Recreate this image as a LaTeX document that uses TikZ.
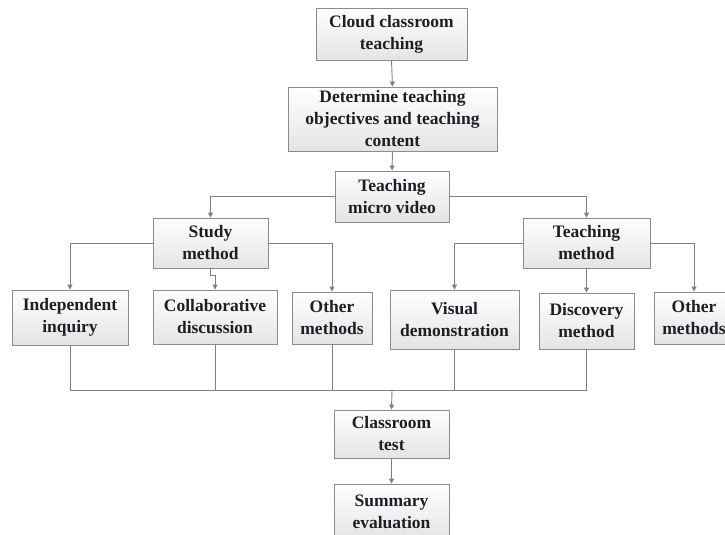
\documentclass[tikz,border=0pt]{standalone}
\usepackage{fontspec}
\setmainfont{Liberation Serif}
\usetikzlibrary{arrows.meta,shadows}
\definecolor{linegray}{RGB}{128,128,128}
\definecolor{boxborder}{RGB}{140,140,140}
\definecolor{boxbottom}{RGB}{228,228,228}
\definecolor{txt}{RGB}{30,30,38}
\tikzset{
  box/.style={draw=boxborder, line width=0.9pt, top color=white, bottom color=boxbottom,
    drop shadow={shadow xshift=1.2pt, shadow yshift=-1.2pt, fill=gray, opacity=0.3},
    align=center, inner sep=2pt, text=txt,
    font=\fontsize{17.5}{22}\selectfont\bfseries},
  link/.style={draw=linegray, line width=0.9pt},
  arr/.style={link, -{Triangle[length=5pt,width=5pt]}},
}
\begin{document}
\begin{tikzpicture}[x=1pt,y=-1pt]
  \useasboundingbox (0,0) rectangle (725,535);
  \clip (0,0) rectangle (725,535);

  % main chain
  \node[box, minimum width=151pt, minimum height=52pt] (cloud) at (391.5,34) {Cloud classroom\\teaching};
  \node[box, minimum width=209pt, minimum height=64pt] (goal) at (392.5,119) {Determine teaching\\objectives and teaching\\content};
  \node[box, minimum width=114pt, minimum height=51pt] (video) at (392,196.5) {Teaching\\micro video};

  % second level
  \node[box, minimum width=115pt, minimum height=50pt] (study) at (210.5,243) {Study\\method};
  \node[box, minimum width=127pt, minimum height=50pt] (tmethod) at (586.5,243) {Teaching\\method};

  % study methods
  \node[box, minimum width=116pt, minimum height=55pt] (indep) at (70,317.5) {Independent\\inquiry};
  \node[box, minimum width=124pt, minimum height=54pt] (collab) at (215,317) {Collaborative\\discussion};
  \node[box, minimum width=80pt, minimum height=52pt] (otherA) at (332,318) {Other\\methods};

  % teaching methods
  \node[box, minimum width=129pt, minimum height=59pt] (visual) at (454.5,319.5) {Visual\\demonstration};
  \node[box, minimum width=95pt, minimum height=56pt] (discovery) at (586.5,321) {Discovery\\method};
  \node[box, minimum width=80pt, minimum height=52pt] (otherB) at (694,318) {Other\\methods};

  % evaluation
  \node[box, minimum width=115pt, minimum height=48pt] (test) at (391.5,434) {Classroom\\test};
  \node[box, minimum width=115pt, minimum height=56pt] (summary) at (391.5,512) {Summary\\evaluation};

  \coordinate (merge) at (392,390);

  % connectors
  \draw[arr] (cloud.south) -- (goal.north);
  \draw[arr] (goal.south) -- (video.north);
  \draw[arr] (video.west) -| (study.north);
  \draw[arr] (video.east) -| (tmethod.north);

  \draw[arr] (study.west) -| (indep.north);
  \draw[arr] (study.east) -| (otherA.north);
  \draw[arr] (study.south) -- ++(0,7) -| (collab.north);

  \draw[arr] (tmethod.west) -| (visual.north);
  \draw[arr] (tmethod.east) -| (otherB.north);
  \draw[arr] (tmethod.south) -- (discovery.north);

  \draw[link] (indep.south) |- (merge);
  \draw[link] (discovery.south) |- (merge);
  \draw[link] (collab.south) -- (collab.south |- merge);
  \draw[link] (otherA.south) -- (otherA.south |- merge);
  \draw[link] (visual.south) -- (visual.south |- merge);
  \draw[arr] (merge) -- (test.north);
  \draw[arr] (test.south) -- (summary.north);
\end{tikzpicture}
\end{document}
